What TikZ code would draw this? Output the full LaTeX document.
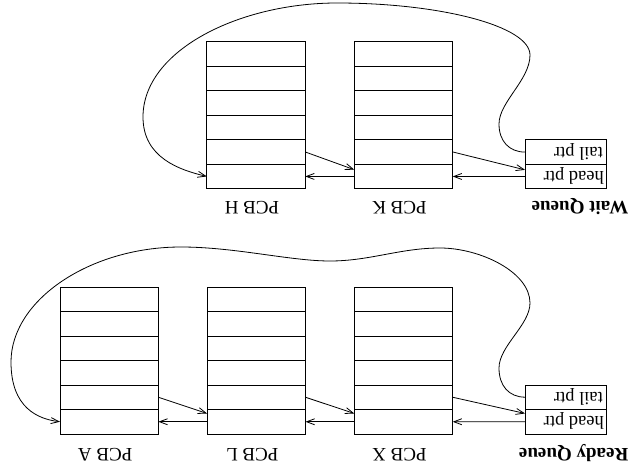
\documentclass[tikz,border=0pt]{standalone}
\usepackage{fontspec}
\setmainfont{Liberation Serif}
\usetikzlibrary{arrows.meta,calc}
\begin{document}
\begin{tikzpicture}[x=1pt,y=-1pt,
  cell/.style={draw, line width=0.9pt, minimum width=98.4pt, minimum height=24.5pt,
               inner sep=0pt, outer sep=0pt},
  qcell/.style={cell, minimum width=81pt},
  link/.style={line width=0.8pt, -{Straight Barb[length=8pt,width=6pt]}},
  lbl/.style={rotate=180, font=\fontsize{19}{19}\selectfont, inner sep=0pt, anchor=base},
  qlbl/.style={lbl, font=\fontsize{19}{19}\selectfont\bfseries, anchor=base west},
  ptr/.style={rotate=180, font=\fontsize{18.5}{19}\selectfont, inner sep=0pt, anchor=west}]
\useasboundingbox (0,0) rectangle (629,468);

% PCB stacks: six rows each, row 6 at the bottom
\foreach \n/\cx/\top in {H/256/41.7, K/403.5/41.7, A/109.2/287, L/256.3/287, X/403.5/287}{
  \foreach \r in {1,...,6}
    \node[cell] (\n\r) at (\cx, \top+12.25+24.5*\r-24.5) {};
}

% queue headers
\node[qcell] (WT) at (565.5, 152.1) {};
\node[qcell] (WH) at (565.5, 176.6) {};
\node[qcell] (RT) at (565.5, 397.2) {};
\node[qcell] (RH) at (565.5, 421.7) {};
\node[ptr] (wtt) at (603, 151.6) {tail ptr};
\node[ptr] (wht) at (604, 176.1) {head ptr};
\node[ptr] (rtt) at (603, 396.7) {tail ptr};
\node[ptr] (rht) at (604, 421.2) {head ptr};

% labels
\node[lbl] (lH) at (252, 201.7) {PCB H};
\node[lbl] (lK) at (399.5, 201.7) {PCB K};
\node[qlbl] (lW) at (628.5, 201.7) {Wait Queue};
\node[lbl] (lA) at (105.2, 448.3) {PCB A};
\node[lbl] (lL) at (252.3, 448.3) {PCB L};
\node[lbl] (lX) at (399.5, 448.3) {PCB X};
\node[qlbl] (lR) at (628.5, 448.3) {Ready Queue};

% wait queue links
\draw[link] (WH.west) -- (K6.east);
\draw[link] (K6.west) -- (H6.east);
\draw[link] (K5.east) -- ($(WH.north west)+(0,5.5)$);
\draw[link] (H5.east) -- ($(K6.north west)+(0,5.5)$);
\draw[link] (WT.west)
  .. controls (509,152) and (499,141) .. (499,124)
  .. controls (499,102) and (530,80) .. (530,55)
  .. controls (530,26) and (440,3) .. (337,3)
  .. controls (240,3) and (143,50) .. (143,117)
  .. controls (143,158) and (180,170) .. (H6.west);

% ready queue links
\draw[link] (RH.west) -- (X6.east);
\draw[link] (X6.west) -- (L6.east);
\draw[link] (L6.west) -- (A6.east);
\draw[link] (X5.east) -- ($(RH.north west)+(0,4)$);
\draw[link] (L5.east) -- ($(X6.north west)+(0,4)$);
\draw[link] (A5.east) -- ($(L6.north west)+(0,4)$);
\draw[link] (RT.west)
  .. controls (509,397) and (499,386) .. (499,368)
  .. controls (499,346) and (530,325) .. (530,303)
  .. controls (530,272) and (480,248) .. (440,248)
  .. controls (400,248) and (370,261) .. (330,261)
  .. controls (290,261) and (235,247) .. (181,247)
  .. controls (90,247) and (11,300) .. (11,362)
  .. controls (11,408) and (38,419) .. (A6.west);
\end{tikzpicture}
\end{document}
